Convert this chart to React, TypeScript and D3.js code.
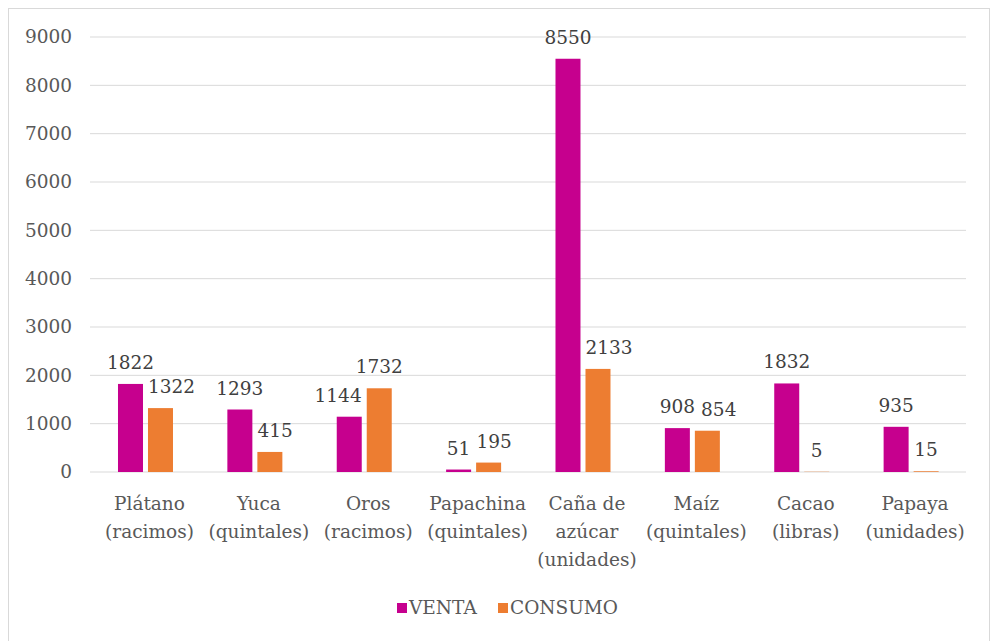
import * as d3 from "d3";

const categories = [
  ["Plátano", "(racimos)"],
  ["Yuca", "(quintales)"],
  ["Oros", "(racimos)"],
  ["Papachina", "(quintales)"],
  ["Caña de", "azúcar", "(unidades)"],
  ["Maíz", "(quintales)"],
  ["Cacao", "(libras)"],
  ["Papaya", "(unidades)"],
];
const venta = [1822, 1293, 1144, 51, 8550, 908, 1832, 935];
const consumo = [1322, 415, 1732, 195, 2133, 854, 5, 15];
const yTicks = [0, 1000, 2000, 3000, 4000, 5000, 6000, 7000, 8000, 9000];
const seriesNames = ["VENTA", "CONSUMO"];
const colors = ["#C6008E", "#ED7D31"];

const W = 994;
const H = 641;
const font = "'DejaVu Serif', serif";
const textColor = "#595959";

export default function App() {
  const x = d3.scaleBand<number>()
    .domain(d3.range(categories.length))
    .range([90.8, 965.8]);
  const y = d3.scaleLinear().domain([0, 9000]).range([472, 37]);
  const barW = 25;
  const gap = 5;
  const center = (i: number) => (x(i) ?? 0) + x.bandwidth() / 2;
  const ventaX = (i: number) => center(i) - (barW * 2 + gap) / 2;
  const consumoX = (i: number) => ventaX(i) + barW + gap;
  const digitW = 11.8;
  const labelH = 22;
  const lift = 15;

  // work out label centres so they don't sit on the neighbouring bar or label
  const labels = venta.map((v, i) => {
    const c = consumo[i];
    const wV = String(v).length * digitW;
    const wC = String(c).length * digitW;
    let cxV = ventaX(i) + barW / 2;
    let cxC = consumoX(i) + barW / 2;
    const topV = y(v) - lift - labelH + 6;
    const topC = y(c) - lift - labelH + 6;
    if (v > c && topC > y(v) - 12) {
      cxC = Math.max(cxC, ventaX(i) + barW + 5 + wC / 2);
    } else if (c > v && topV > y(c) - 12) {
      cxV = Math.min(cxV, consumoX(i) - 5 - wV / 2);
    } else if (Math.abs(topV - topC) < labelH && cxV + wV / 2 + 4 > cxC - wC / 2) {
      cxC = cxV + wV / 2 + 6 + wC / 2;
    }
    return { cxV, cxC };
  });

  return (
    <svg width={W} height={H} style={{ position: "absolute", left: 0, top: 0 }} fontFamily={font}>
      <rect x={0} y={0} width={W} height={H} fill="#fff" />
      <rect x={8.5} y={8.5} width={981} height={650} fill="none" stroke="#d9d9d9" />
      {yTicks.map((t) => (
        <g key={t}>
          <line x1={90} x2={966} y1={y(t)} y2={y(t)} stroke="#d9d9d9" strokeWidth={1} />
          <text x={72} y={y(t)} dy="0.35em" textAnchor="end" fontSize={18.5} fill={textColor}>{t}</text>
        </g>
      ))}
      {venta.map((v, i) => (
        <g key={"v" + i}>
          <rect x={ventaX(i)} y={y(v)} width={barW} height={y(0) - y(v)} fill={colors[0]} />
          <text x={labels[i].cxV} y={y(v) - lift} textAnchor="middle" fontSize={18.5} fill="#404040">{v}</text>
        </g>
      ))}
      {consumo.map((v, i) => (
        <g key={"c" + i}>
          <rect x={consumoX(i)} y={y(v)} width={barW} height={y(0) - y(v)} fill={colors[1]} />
          <text x={labels[i].cxC} y={y(v) - lift} textAnchor="middle" fontSize={18.5} fill="#404040">{v}</text>
        </g>
      ))}
      {categories.map((lines, i) => (
        <text key={"l" + i} textAnchor="middle" fontSize={18.5} fill={textColor}>
          {lines.map((ln, j) => (
            <tspan key={j} x={center(i) + 4} y={510 + j * 28}>{ln}</tspan>
          ))}
        </text>
      ))}
      <g transform="translate(397,603)">
        {seriesNames.map((s, i) => {
          const off = i === 0 ? 0 : 101;
          return (
            <g key={s} transform={`translate(${off},0)`}>
              <rect x={0} y={0} width={10} height={10} fill={colors[i]} />
              <text x={12} y={11} fontSize={18.5} fill={textColor}>{s}</text>
            </g>
          );
        })}
      </g>
    </svg>
  );
}
